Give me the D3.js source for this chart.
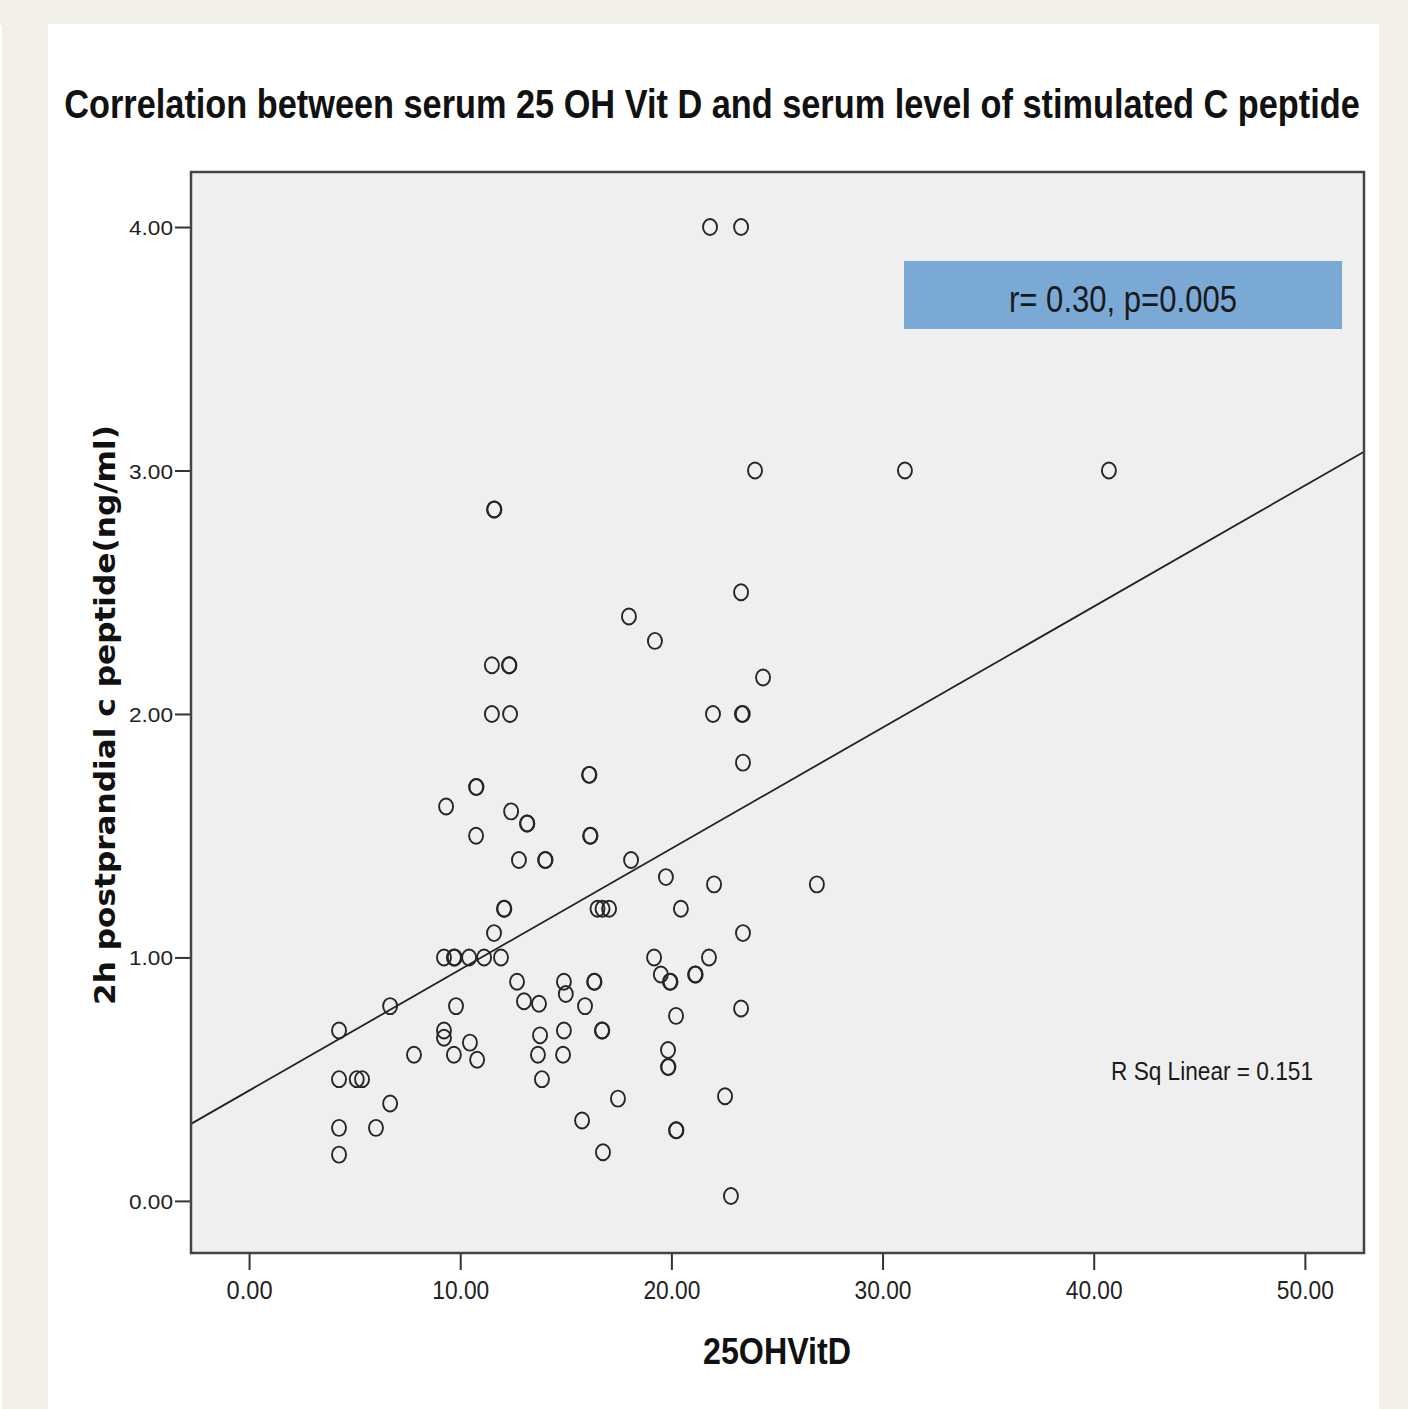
<!DOCTYPE html>
<html>
<head>
<meta charset="utf-8">
<script src="https://cdn.jsdelivr.net/npm/d3@7"></script>
<style>
  body { margin: 0; background: #f2efe8; }
  svg { display: block; }
</style>
</head>
<body>
<svg width="1408" height="1409"></svg>
<script>
// 25 OH Vit D (x) and 2h postprandial c peptide (y)
var vitD = [
  21.83, 23.30, 23.96, 31.06, 40.72,
  11.60, 11.62, 23.30, 17.99, 19.22, 24.34,
  11.50, 12.31, 12.33, 11.50, 12.36, 21.97, 23.34, 23.38,
  23.39, 16.10, 16.12, 10.75, 10.77, 9.33, 12.41, 13.16, 13.18,
  10.75, 16.15, 16.17, 12.78, 14.02, 14.04, 18.09, 19.74, 22.02, 26.89,
  12.07, 12.09, 16.50, 16.74, 17.05, 20.45, 11.60, 23.39,
  9.23, 9.70, 9.74, 10.42, 11.13, 11.93, 19.18, 21.78,
  12.69, 14.91, 16.34, 16.36, 19.50, 19.93, 19.96, 21.12, 21.15,
  15.00, 13.02, 13.73, 15.91, 9.80, 6.68, 23.30, 20.22,
  4.26, 9.23, 9.23, 14.91, 16.71, 16.73, 13.78, 10.46,
  7.81, 9.70, 13.68, 14.87, 10.80, 19.84, 19.84, 19.86,
  4.26, 5.10, 5.35, 13.87, 6.68, 17.47, 22.54,
  4.26, 6.01, 15.77, 20.22, 20.24, 4.26, 16.76, 22.82
];
var cPeptide = [
  4.00, 4.00, 3.00, 3.00, 3.00,
  2.84, 2.84, 2.50, 2.40, 2.30, 2.15,
  2.20, 2.20, 2.20, 2.00, 2.00, 2.00, 2.00, 2.00,
  1.80, 1.75, 1.75, 1.70, 1.70, 1.62, 1.60, 1.55, 1.55,
  1.50, 1.50, 1.50, 1.40, 1.40, 1.40, 1.40, 1.33, 1.30, 1.30,
  1.20, 1.20, 1.20, 1.20, 1.20, 1.20, 1.10, 1.10,
  1.00, 1.00, 1.00, 1.00, 1.00, 1.00, 1.00, 1.00,
  0.90, 0.90, 0.90, 0.90, 0.93, 0.90, 0.90, 0.93, 0.93,
  0.85, 0.82, 0.81, 0.80, 0.80, 0.80, 0.79, 0.76,
  0.70, 0.70, 0.67, 0.70, 0.70, 0.70, 0.68, 0.65,
  0.60, 0.60, 0.60, 0.60, 0.58, 0.62, 0.55, 0.55,
  0.50, 0.50, 0.50, 0.50, 0.40, 0.42, 0.43,
  0.30, 0.30, 0.33, 0.29, 0.29, 0.19, 0.20, 0.02
];
var xTicks = [0, 10, 20, 30, 40, 50];
var yTicks = [0, 1, 2, 3, 4];
// fit line as drawn in the picture
var fitIntercept = 0.453;
var fitSlope = 0.0497;

var titleText = "Correlation between serum 25 OH Vit D and serum level of stimulated C peptide";
var xLabel = "25OHVitD";
var yLabel = "2h postprandial c peptide(ng/ml)";
var statText = "r= 0.30, p=0.005";
var rsqText = "R Sq Linear = 0.151";

var svg = d3.select("svg");
var padding = { top: 172, bottom: 1253, left: 191, right: 1364 };

// page panels
svg.append("rect").attr("x", 48).attr("y", 24).attr("width", 1331).attr("height", 1385).style("fill", "#ffffff");
svg.append("rect").attr("x", 0).attr("y", 25).attr("width", 2).attr("height", 1384).style("fill", "#ffffff");

var x = d3.scaleLinear().domain([-2.75, 52.8]).range([padding.left, padding.right]);
var y = d3.scaleLinear().domain([-0.214, 4.226]).range([padding.bottom, padding.top]);

svg.append("rect")
  .attr("x", padding.left)
  .attr("y", padding.top)
  .attr("width", padding.right - padding.left)
  .attr("height", padding.bottom - padding.top)
  .style("fill", "#efefef");

svg.append("clipPath").attr("id", "clip")
  .append("rect")
  .attr("x", padding.left)
  .attr("y", padding.top)
  .attr("width", padding.right - padding.left)
  .attr("height", padding.bottom - padding.top);

// title, squeezed horizontally to the width it has in the picture
var titleG = svg.append("g");
var title = titleG.append("text")
  .attr("text-anchor", "middle")
  .style("font-family", "Liberation Sans, Arial, sans-serif")
  .style("font-size", "40px").style("font-weight", "bold")
  .style("fill", "#111")
  .text(titleText);
var titleW = title.node().getComputedTextLength();
titleG.attr("transform", "translate(712,118) scale(" + (1296 / titleW) + ",1)");

// axes
var xAxis = d3.axisBottom(x).tickValues(xTicks).tickSize(17).tickPadding(11)
  .tickFormat(d3.format(".2f"));
var yAxis = d3.axisLeft(y).tickValues(yTicks).tickSize(16).tickPadding(2)
  .tickFormat(d3.format(".2f"));

var gX = svg.append("g").attr("transform", "translate(0," + padding.bottom + ")").call(xAxis);
var gY = svg.append("g").attr("transform", "translate(" + padding.left + ",0)").call(yAxis);
gX.select(".domain").remove();
gY.select(".domain").remove();
gX.selectAll(".tick line").style("stroke", "#333").style("stroke-width", 2);
gY.selectAll(".tick line").style("stroke", "#333").style("stroke-width", 2);
gX.selectAll(".tick text")
  .attr("textLength", 46).attr("lengthAdjust", "spacingAndGlyphs")
  .style("font-family", "Liberation Sans, Arial, sans-serif")
  .style("font-size", "26px").style("fill", "#222");
gX.selectAll(".tick text").filter(function (d) { return d >= 10; })
  .attr("textLength", 57);
gY.selectAll(".tick text")
  .attr("textLength", 44).attr("lengthAdjust", "spacingAndGlyphs")
  .attr("dy", "0.36em")
  .style("font-family", "Liberation Sans, Arial, sans-serif")
  .style("font-size", "21px").style("fill", "#222");

// fit line
svg.append("line")
  .attr("clip-path", "url(#clip)")
  .attr("x1", x(-2.75)).attr("y1", y(fitIntercept + fitSlope * -2.75))
  .attr("x2", x(52.8)).attr("y2", y(fitIntercept + fitSlope * 52.8))
  .style("stroke", "#222").style("stroke-width", 1.8);

// points
svg.selectAll("ellipse.pt")
  .data(vitD)
  .enter()
  .append("ellipse")
  .attr("class", "pt")
  .attr("cx", function (d) { return x(d); })
  .attr("cy", function (d, i) { return y(cPeptide[i]); })
  .attr("rx", 7).attr("ry", 8)
  .style("fill", "none")
  .style("stroke", "#262626")
  .style("stroke-width", 1.9);

// frame
svg.append("rect")
  .attr("x", padding.left)
  .attr("y", padding.top)
  .attr("width", padding.right - padding.left)
  .attr("height", padding.bottom - padding.top)
  .style("fill", "none")
  .style("stroke", "#444")
  .style("stroke-width", 2.5);

// stat box
svg.append("rect")
  .attr("x", 904).attr("y", 261).attr("width", 438).attr("height", 68)
  .style("fill", "#7aa9d6");
svg.append("text")
  .attr("x", 1123).attr("y", 312)
  .attr("text-anchor", "middle")
  .attr("textLength", 228).attr("lengthAdjust", "spacingAndGlyphs")
  .style("font-family", "Liberation Sans, Arial, sans-serif")
  .style("font-size", "36px").style("fill", "#1a1a1a")
  .text(statText);

svg.append("text")
  .attr("x", 1111).attr("y", 1080)
  .attr("textLength", 202).attr("lengthAdjust", "spacingAndGlyphs")
  .style("font-family", "Liberation Sans, Arial, sans-serif")
  .style("font-size", "26px").style("fill", "#1a1a1a")
  .text(rsqText);

// axis titles
svg.append("text")
  .attr("x", 777).attr("y", 1364)
  .attr("text-anchor", "middle")
  .attr("textLength", 148).attr("lengthAdjust", "spacingAndGlyphs")
  .style("font-family", "Liberation Sans, Arial, sans-serif")
  .style("font-size", "36px").style("font-weight", "bold").style("fill", "#111")
  .text(xLabel);

svg.append("g")
  .attr("transform", "translate(115,715) rotate(270)")
  .append("text")
  .attr("text-anchor", "middle")
  .attr("textLength", 580).attr("lengthAdjust", "spacingAndGlyphs")
  .style("font-family", "DejaVu Sans, Verdana, sans-serif")
  .style("font-size", "29px").style("font-weight", "bold").style("fill", "#111")
  .text(yLabel);
</script>
</body>
</html>
